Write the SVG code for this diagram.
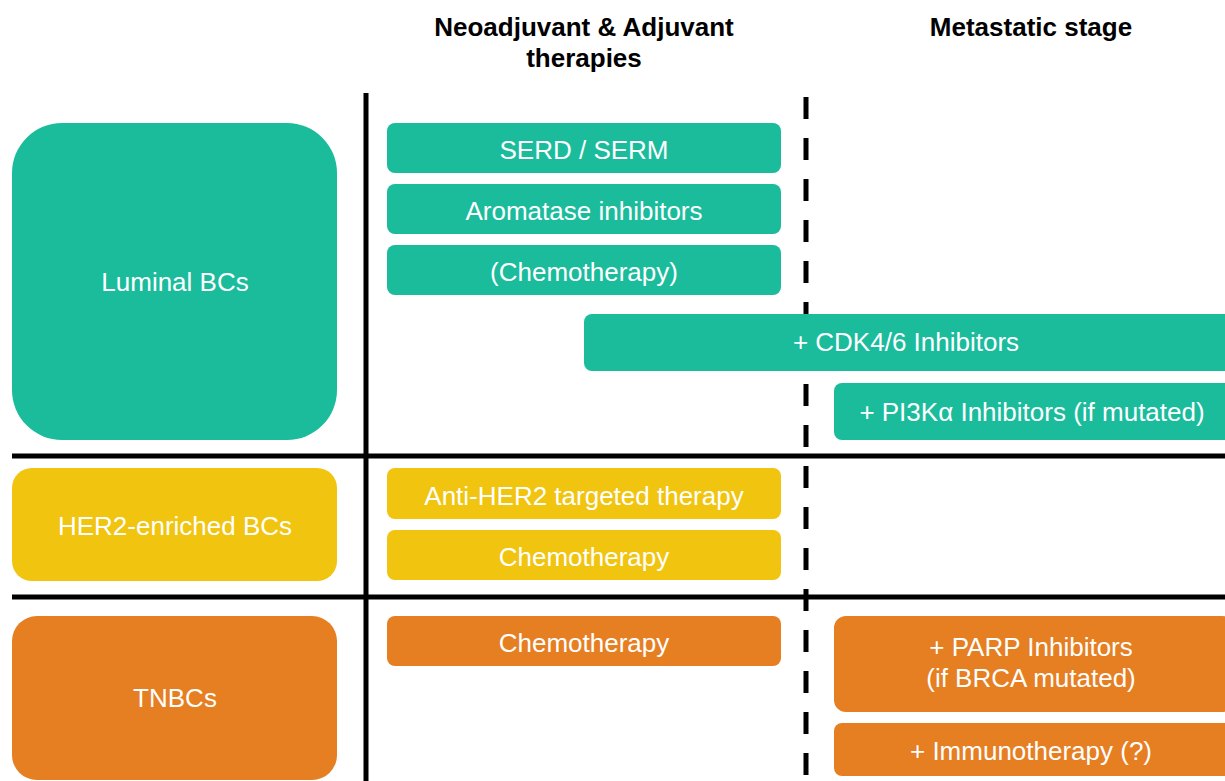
<svg xmlns="http://www.w3.org/2000/svg" width="1225" height="781" viewBox="0 0 1225 781">
  <style>
    .hdr { font-family: "Liberation Sans", Arial, sans-serif; font-size: 26px; font-weight: bold; fill: #000; text-anchor: middle; }
    .lbl { font-family: "Liberation Sans", Arial, sans-serif; font-size: 26px; fill: #fff; text-anchor: middle; }
    .teal { fill: #1ABC9C; }
    .yellow { fill: #F1C40F; }
    .orange { fill: #E67E22; }
    .rule { stroke: #000; stroke-width: 5; fill: none; }
    .dash { stroke: #000; stroke-width: 5; fill: none; stroke-dasharray: 22 19; }
  </style>

  <rect width="1225" height="781" fill="#fff"/>

  <!-- column headers -->
  <g id="headers">
    <text class="hdr" x="584" y="36">Neoadjuvant &amp; Adjuvant</text>
    <text class="hdr" x="584" y="67">therapies</text>
    <text class="hdr" x="1031" y="36">Metastatic stage</text>
  </g>

  <!-- grid separating subtypes and treatment stages -->
  <g id="connectors">
    <line class="rule" x1="366" y1="93" x2="366" y2="781"/>
    <line class="rule" x1="12" y1="456" x2="1225" y2="456"/>
    <line class="rule" x1="12" y1="597" x2="1225" y2="597"/>
    <line class="dash" x1="806" y1="97" x2="806" y2="781"/>
  </g>

  <!-- Luminal row -->
  <g id="luminal">
    <rect class="teal" x="12" y="123" width="325" height="317" rx="50"/>
    <text class="lbl" x="175" y="291">Luminal BCs</text>
  </g>
  <g id="serd-serm">
    <rect class="teal" x="387" y="123" width="394" height="50" rx="8"/>
    <text class="lbl" x="584" y="159">SERD / SERM</text>
  </g>
  <g id="aromatase">
    <rect class="teal" x="387" y="184" width="394" height="50" rx="8"/>
    <text class="lbl" x="584" y="220">Aromatase inhibitors</text>
  </g>
  <g id="luminal-chemo">
    <rect class="teal" x="387" y="245" width="394" height="50" rx="8"/>
    <text class="lbl" x="584" y="281">(Chemotherapy)</text>
  </g>
  <g id="cdk46">
    <rect class="teal" x="584" y="314" width="650" height="57" rx="8"/>
    <text class="lbl" x="906" y="351">+ CDK4/6 Inhibitors</text>
  </g>
  <g id="pi3k">
    <rect class="teal" x="834" y="383" width="400" height="57" rx="8"/>
    <text class="lbl" x="1032" y="421">+ PI3Kα Inhibitors (if mutated)</text>
  </g>

  <!-- HER2-enriched row -->
  <g id="her2">
    <rect class="yellow" x="12" y="468" width="325" height="113" rx="20"/>
    <text class="lbl" x="175" y="535">HER2-enriched BCs</text>
  </g>
  <g id="anti-her2">
    <rect class="yellow" x="387" y="468" width="394" height="51" rx="8"/>
    <text class="lbl" x="584" y="505">Anti-HER2 targeted therapy</text>
  </g>
  <g id="her2-chemo">
    <rect class="yellow" x="387" y="530" width="394" height="50" rx="8"/>
    <text class="lbl" x="584" y="566">Chemotherapy</text>
  </g>

  <!-- TNBC row -->
  <g id="tnbc">
    <rect class="orange" x="12" y="616" width="325" height="164" rx="25"/>
    <text class="lbl" x="175" y="707">TNBCs</text>
  </g>
  <g id="tnbc-chemo">
    <rect class="orange" x="387" y="616" width="394" height="50" rx="8"/>
    <text class="lbl" x="584" y="652">Chemotherapy</text>
  </g>
  <g id="parp">
    <rect class="orange" x="834" y="616" width="400" height="96" rx="12"/>
    <text class="lbl" x="1031" y="656">+ PARP Inhibitors</text>
    <text class="lbl" x="1031" y="687">(if BRCA mutated)</text>
  </g>
  <g id="immuno">
    <rect class="orange" x="834" y="723" width="400" height="53" rx="8"/>
    <text class="lbl" x="1031" y="760">+ Immunotherapy (?)</text>
  </g>
</svg>
